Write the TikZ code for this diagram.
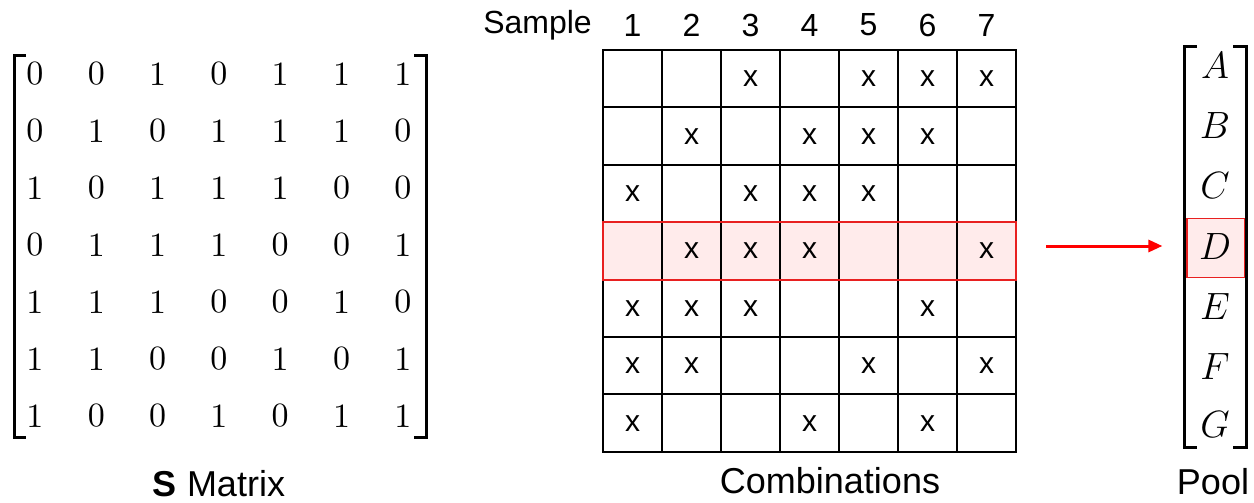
\RequirePackage{fix-cm}
\documentclass[tikz,border=0pt]{standalone}
\usepackage{fontspec}
\newfontfamily\lsans{Liberation Sans}
\newfontfamily\lmten{lmroman10-regular}[Extension=.otf]
\usetikzlibrary{arrows.meta}
\definecolor{hlpink}{HTML}{FFEBEB}
\definecolor{hlred}{HTML}{E82020}
\begin{document}
\begin{tikzpicture}[x=1pt,y=-1pt,
  cell/.style={draw=black,line width=2pt,minimum width=59pt,minimum height=57.4pt,inner sep=0pt,
    font=\lsans\fontsize{30}{30}\selectfont},
  num/.style={inner sep=0pt,font=\lmten\fontsize{34}{34}\selectfont},
  hdr/.style={inner sep=0pt,font=\lsans\fontsize{32}{32}\selectfont},
  lbl/.style={inner sep=0pt,font=\lsans\fontsize{36}{36}\selectfont},
  plet/.style={inner sep=0pt,font=\fontsize{38}{38}\selectfont},
  brk/.style={line width=3pt,line cap=butt,line join=miter}]
\useasboundingbox (0,0) rectangle (1254,503);
% highlighted row background
\fill[hlpink] (603,222.3) rectangle (1016,279.7);
% header
\node[hdr,anchor=east] (samp) at (592,25) {Sample};
\foreach \c in {1,...,7} \node[hdr] (h\c) at ({603+59*(\c-0.5)},25) {\c};
% S matrix entries
\foreach \r/\vals in {1/{0,0,1,0,1,1,1},2/{0,1,0,1,1,1,0},3/{1,0,1,1,1,0,0},4/{0,1,1,1,0,0,1},5/{1,1,1,0,0,1,0},6/{1,1,0,0,1,0,1},7/{1,0,0,1,0,1,1}}{
  \foreach \v [count=\c] in \vals {
    \node[num] (m\r\c) at ({35+61.3*(\c-1)},{74+57*(\r-1)}) {\v};
  }
}
% combinations grid
\foreach \r/\vals in {1/{0,0,1,0,1,1,1},2/{0,1,0,1,1,1,0},3/{1,0,1,1,1,0,0},4/{0,1,1,1,0,0,1},5/{1,1,1,0,0,1,0},6/{1,1,0,0,1,0,1},7/{1,0,0,1,0,1,0}}{
  \foreach \v [count=\c] in \vals {
    \node[cell] (g\r\c) at ({603+59*(\c-0.5)},{50+57.4*(\r-0.5)}) {\ifnum\v=1 x\fi};
  }
}
% highlight border
\draw[hlred,line width=2pt] (603,222.3) rectangle (1016,279.7);
% S matrix brackets
\draw[brk] (26,56) -- (14,56) -- (14,437) -- (26,437);
\draw[brk] (414,56) -- (426,56) -- (426,437) -- (414,437);
% pool
\node[draw=hlred,fill=hlpink,line width=1.2pt,minimum width=58pt,minimum height=59pt,inner sep=0pt] (pbox) at (1216,248) {};
\foreach \L/\y in {A/66,B/126,C/186,D/247,E/307,F/367,G/425}
  \node[plet] (p\L) at (1215,\y) {$\L$};
\draw[brk] (1197,47) -- (1184,47) -- (1184,447) -- (1197,447);
\draw[brk] (1233,47) -- (1246,47) -- (1246,447) -- (1233,447);
% arrow
\coordinate (astart) at (1046,246);
\draw[red,line width=3pt,-{Triangle[length=14pt,width=12pt]},shorten >=24pt] (astart) -- (pbox.west |- astart);
% labels
\node[lbl] (slab) at (219,484) {\textbf{S} Matrix};
\node[lbl] (clab) at (830,481) {Combinations};
\node[lbl] (plab) at (1213,482) {Pool};
\end{tikzpicture}
\end{document}
